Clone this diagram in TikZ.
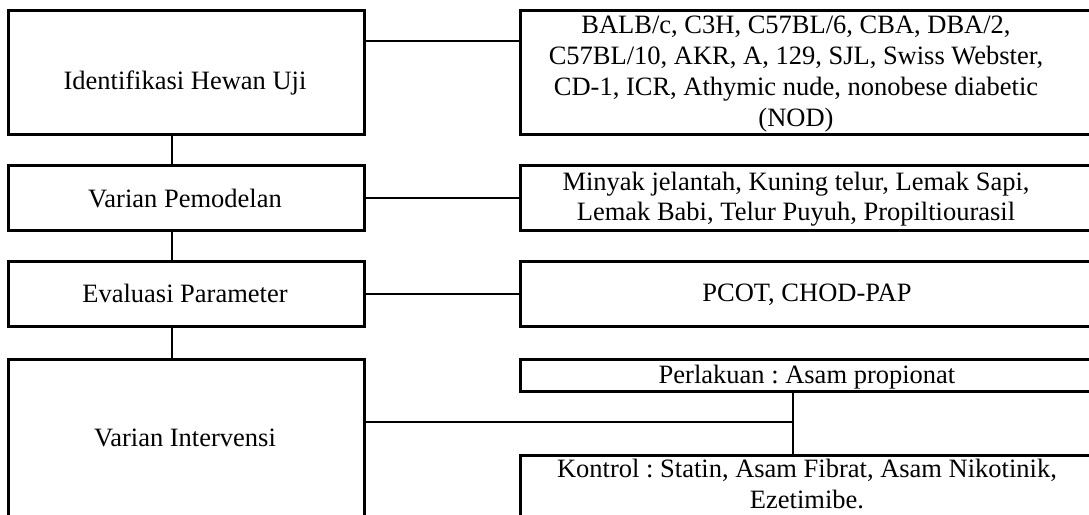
\documentclass[tikz,border=0pt]{standalone}
\usepackage{fontspec}
\setmainfont{Liberation Serif}
\frenchspacing
\begin{document}
\begin{tikzpicture}[x=1pt,y=-1pt,
  box/.style={draw, line width=2.8pt, rectangle, inner sep=0pt, anchor=north west},
  txt/.style={align=center, inner sep=0pt, anchor=base, font=\fontsize{26.5}{29.7}\selectfont},
  link/.style={line width=2.8pt}]
\useasboundingbox (0,0) rectangle (1089,514);
\clip (0,0) rectangle (1089,514);
% left column boxes
\node[box, minimum width=356, minimum height=124] (l1) at (7,9) {};
\node[box, minimum width=356, minimum height=65] (l2) at (7,164) {};
\node[box, minimum width=356, minimum height=65] (l3) at (7,260) {};
\node[box, minimum width=356, minimum height=172] (l4) at (7,358) {};
% right column boxes
\node[box, minimum width=590, minimum height=124] (r1) at (519,9) {};
\node[box, minimum width=590, minimum height=65] (r2) at (519,164) {};
\node[box, minimum width=590, minimum height=65] (r3) at (519,260) {};
\node[box, minimum width=590, minimum height=32] (p) at (519,358) {};
\node[box, minimum width=590, minimum height=80] (k) at (519,454) {};
% texts (base anchor = baseline of last line)
\node[txt] (l1t) at (185,89) {Identifikasi Hewan Uji};
\node[txt] (l2t) at (185,207) {Varian Pemodelan};
\node[txt] (l3t) at (185,302) {Evaluasi Parameter};
\node[txt] (l4t) at (185,446) {Varian Intervensi};
\node[txt, font=\fontsize{26.5}{31}\selectfont] (r1t) at (796,126) {BALB/c, C3H, C57BL/6, CBA, DBA/2,\\C57BL/10, AKR, A, 129, SJL, Swiss Webster,\\CD-1, ICR, Athymic nude, nonobese diabetic\\(NOD)};
\node[txt] (r2t) at (796,220) {Minyak jelantah, Kuning telur, Lemak Sapi,\\Lemak Babi, Telur Puyuh, Propiltiourasil};
\node[txt] (r3t) at (807,301) {PCOT, CHOD-PAP};
\node[txt] (pt) at (807,383) {Perlakuan : Asam propionat};
\node[txt, font=\fontsize{26.5}{31}\selectfont] (kt) at (807,508) {Kontrol : Statin, Asam Fibrat, Asam Nikotinik,\\Ezetimibe.};
% connectors
\coordinate (vx) at (172,0);
\coordinate (j) at (793,422);
\draw[link] ([yshift=-32pt]l1.north east) -- ([yshift=-32pt]r1.north west);
\draw[link] (l2.east) -- (r2.west);
\draw[link] (l3.east) -- (r3.west);
\draw[link] (l4.east |- j) -- (j);
\draw[link] (p.south -| j) -- (k.north -| j);
\draw[link] (l1.south -| vx) -- (l2.north -| vx);
\draw[link] (l2.south -| vx) -- (l3.north -| vx);
\draw[link] (l3.south -| vx) -- (l4.north -| vx);
\end{tikzpicture}
\end{document}
